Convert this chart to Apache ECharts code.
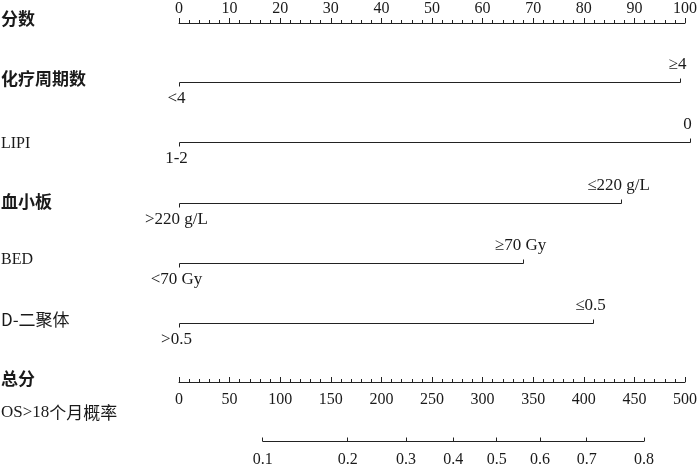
<!DOCTYPE html>
<html><head><meta charset="utf-8">
<script src="https://cdn.jsdelivr.net/npm/echarts@6/dist/echarts.min.js"></script>
<style>html,body{margin:0;padding:0;background:#fff}#c{width:700px;height:465px}</style>
</head><body><div id="c"></div>
<script>
// ---- data ----
const rowTitles = ['分数','化疗周期数','LIPI','血小板','BED','D-二聚体','总分','OS>18个月概率'];
const varRows = [1, 2, 3, 4, 5];
const lowLabels = ['<4', '1-2', '>220 g/L', '<70 Gy', '>0.5'];
const highLabels = ['≥4', '0', '≤220 g/L', '≥70 Gy', '≤0.5'];
const highPoints = [98, 100, 86.6, 67.4, 81.1];
const probLabels = ['0.1','0.2','0.3','0.4','0.5','0.6','0.7','0.8'];
const probAtTotal = [81.7, 164.7, 221.7, 267.9, 310.3, 352.5, 398.1, 454.1];

const SERIF = '"Liberation Serif","Times New Roman",serif';
const CJK = '"Noto Sans CJK SC",sans-serif';
const INK = '#1a1a1a';
const LINE = '#222';

const chart = echarts.init(document.getElementById('c'), null, {renderer: 'canvas'});

const labelStyle = {fontFamily: SERIF, fontSize: 16, color: INK};

// titles (layout positions, vertical centres)
const titleY = [19, 79, 143.5, 201.5, 260, 320, 378.5, 413];
const titleFonts = [
  'bold 17px ' + CJK,
  'bold 17px ' + CJK,
  '16px ' + SERIF,
  'bold 17px ' + CJK,
  '16px ' + SERIF,
  '17px ' + CJK,
  'bold 17px ' + CJK,
  null
];
const graphics = rowTitles.map((t, i) => {
  if (i === 7) {
    return {type: 'text', x: 1, y: titleY[i],
      style: {text: '{a|OS>18}{b|个月概率}', fill: INK, verticalAlign: 'middle',
        rich: {a: {fontFamily: SERIF, fontSize: 17, fill: INK}, b: {fontFamily: CJK, fontSize: 17, fill: INK}}}};
  }
  return {type: 'text', x: 1, y: titleY[i],
    style: {text: t, fill: INK, font: titleFonts[i], verticalAlign: 'middle'}};
});

const varData = varRows.map((r, i) => [r, highPoints[i]]);

const option = {
  animation: false,
  backgroundColor: '#fff',
  graphic: graphics,
  grid: [
    {left: 179, width: 512, top: 21, height: 2},
    {left: 179, width: 512, top: 82, height: 241.3},
    {left: 179, width: 512, top: 380, height: 2},
    {left: 179, width: 512, top: 441, height: 2}
  ],
  xAxis: [
    {gridIndex: 0, type: 'value', position: 'top', min: 0, max: 100, interval: 10,
      axisLine: {show: true, lineStyle: {color: LINE, width: 1}},
      axisTick: {show: true, length: 5, lineStyle: {color: LINE}},
      minorTick: {show: true, splitNumber: 5, length: 3, lineStyle: {color: LINE}},
      axisLabel: Object.assign({margin: 4}, labelStyle),
      splitLine: {show: false}, minorSplitLine: {show: false}},
    {gridIndex: 1, type: 'value', min: 0, max: 100, show: false},
    {gridIndex: 2, type: 'value', position: 'bottom', min: 0, max: 500, interval: 50,
      axisLine: {show: true, lineStyle: {color: LINE, width: 1}},
      axisTick: {show: true, inside: true, length: 5, lineStyle: {color: LINE}},
      minorTick: {show: true, splitNumber: 5, length: 3, lineStyle: {color: LINE}},
      axisLabel: Object.assign({margin: 10}, labelStyle),
      splitLine: {show: false}, minorSplitLine: {show: false}},
    {gridIndex: 3, type: 'value', position: 'bottom', min: 0, max: 500,
      axisLine: {show: false},
      axisTick: {show: true, inside: true, length: 4, customValues: probAtTotal, lineStyle: {color: LINE}},
      axisLabel: Object.assign({margin: 10, customValues: probAtTotal,
        formatter: v => { const k = probAtTotal.indexOf(v); return k >= 0 ? probLabels[k] : ''; }}, labelStyle),
      splitLine: {show: false}}
  ],
  yAxis: [
    {gridIndex: 0, type: 'value', min: 0, max: 1, show: false},
    {gridIndex: 1, type: 'value', min: 1, max: 5, inverse: true, show: false},
    {gridIndex: 2, type: 'value', min: 0, max: 1, show: false},
    {gridIndex: 3, type: 'value', min: 0, max: 1, show: false}
  ],
  series: [
    {type: 'custom', xAxisIndex: 1, yAxisIndex: 1, silent: true,
      encode: {x: 1, y: 0},
      data: varData,
      renderItem: function (params, api) {
        const row = api.value(0), v = api.value(1);
        const p0 = api.coord([0, row]);
        const p1 = api.coord([v, row]);
        const i = params.dataIndex;
        const y = Math.round(p0[1]) + 0.5;
        const x0 = Math.round(p0[0]) + 0.5, x1 = Math.round(p1[0]) - 0.5;
        const ls = {stroke: LINE, lineWidth: 1};
        const ts = {font: '17px ' + SERIF, fill: INK, align: 'center', verticalAlign: 'middle'};
        return {type: 'group', children: [
          {type: 'line', shape: {x1: x0, y1: y, x2: x1, y2: y}, style: ls},
          {type: 'line', shape: {x1: x0, y1: y, x2: x0, y2: y + 4}, style: ls},
          {type: 'line', shape: {x1: x1, y1: y, x2: x1, y2: y - 4}, style: ls},
          {type: 'text', x: x0 - 3, y: y + 16, style: Object.assign({text: lowLabels[i]}, ts)},
          {type: 'text', x: x1 - 3, y: y - 18, style: Object.assign({text: highLabels[i]}, ts)}
        ]};
      }},
    {type: 'line', xAxisIndex: 3, yAxisIndex: 3, silent: true, symbol: 'none',
      lineStyle: {color: LINE, width: 1},
      data: [[probAtTotal[0], 0], [probAtTotal[probAtTotal.length - 1], 0]]}
  ]
};
chart.setOption(option);
</script></body></html>
